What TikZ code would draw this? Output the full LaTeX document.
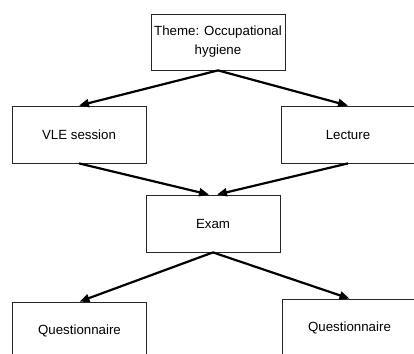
\documentclass[tikz,border=0pt]{standalone}
\usepackage{fontspec}
\setmainfont{Liberation Sans}
\usepackage{tikz}
\usetikzlibrary{arrows.meta, positioning}

\begin{document}
\begin{tikzpicture}[x=1pt,y=1pt,
	box/.style={draw=black!85,line width=0.8pt,minimum width=134pt,minimum height=57pt,inner sep=0pt,align=center,font=\fontsize{13.3}{19}\selectfont},
	flow/.style={-{Triangle[length=10pt,width=8pt]},line width=2.2pt}]
\useasboundingbox (0,0) rectangle (414,353);
\node(theme)[box,minimum height=56pt] at (218,311) {Theme: Occupational\\hygiene};
\node(vle)[box,xshift=-139pt,yshift=-92.5pt] at (theme) {VLE session};
\node(lecture)[box,xshift=269pt] at (vle) {Lecture};

\node(exam)[box,xshift=-135pt,yshift=-89pt] at (lecture) {Exam};

\node(qleft)[box,xshift=-133.5pt,yshift=-107pt] at (exam) {Questionnaire};
\node(qright)[box,xshift=136.5pt,yshift=-104pt] at (exam) {Questionnaire};

\draw	(theme.south) edge[flow] (vle.north)
		(theme.south) edge[flow] (lecture.north)
		(vle.south) edge[flow] ([xshift=-4pt]exam.north)
		(lecture.south) edge[flow] ([xshift=4pt]exam.north);
\draw	(exam.south) edge[flow] (qleft.north)
		(exam.south) edge[flow] (qright.north);
\end{tikzpicture}
\end{document}
